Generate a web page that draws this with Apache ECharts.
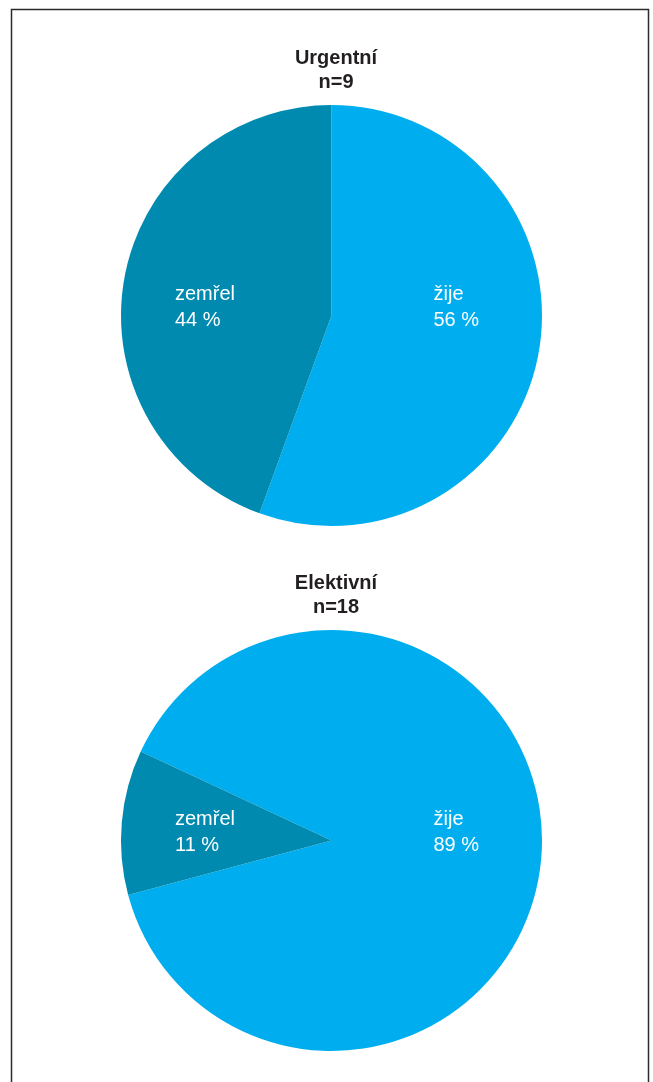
<!DOCTYPE html>
<html>
<head>
<meta charset="utf-8">
<script src="https://cdn.jsdelivr.net/npm/echarts@6/dist/echarts.min.js"></script>
<style>
html,body{margin:0;padding:0;background:#fff;}
#chart{width:653px;height:1082px;}
</style>
</head>
<body>
<div id="chart"></div>
<script>
// Data (patient counts; n=9 and n=18)
const categories = ['žije', 'zemřel'];
const urgentCounts = [5, 4];
const electiveCounts = [16, 2];
const titles = ['Urgentní\nn=9', 'Elektivní\nn=18'];
const colors = ['#00AEEF', '#008AAF'];

const chart = echarts.init(document.getElementById('chart'), null, {renderer: 'canvas'});

// label anchor positions (px) relative to pie centre
const labelOffsets = { 'žije': [102, -8], 'zemřel': [-156.5, -8] };

function makeSeries(values, cy, startAngle) {
  return {
    type: 'pie',
    center: [331.5, cy],
    radius: 210.5,
    startAngle: startAngle,
    clockwise: true,
    avoidLabelOverlap: false,
    animation: false,
    silent: true,
    itemStyle: { borderWidth: 0 },
    label: {
      show: true,
      position: 'inside',
      formatter: p => p.name + '\n' + Math.round(p.percent) + ' %',
      color: '#ffffff',
      fontFamily: 'Liberation Sans, Arial, sans-serif',
      fontSize: 20,
      lineHeight: 26,
      align: 'left'
    },
    labelLine: { show: false },
    labelLayout: function (params) {
      const off = labelOffsets[categories[params.dataIndex]];
      return { x: 331.5 + off[0], y: cy + off[1], align: 'left', verticalAlign: 'middle' };
    },
    data: categories.map((c, i) => ({ name: c, value: values[i], itemStyle: { color: colors[i] } }))
  };
}

const titleStyle = {
  fontFamily: 'Liberation Sans, Arial, sans-serif',
  fontWeight: 'bold',
  fontSize: 20,
  lineHeight: 24,
  color: '#231f20'
};

chart.setOption({
  backgroundColor: '#ffffff',
  title: [
    { text: titles[0], left: 331, top: 41, textAlign: 'center', textStyle: titleStyle },
    { text: titles[1], left: 331, top: 566, textAlign: 'center', textStyle: titleStyle }
  ],
  graphic: [{
    type: 'rect',
    shape: { x: 11.5, y: 9.5, width: 637, height: 1100 },
    style: { fill: 'none', stroke: '#2b2b2b', lineWidth: 1.5 },
    silent: true
  }],
  series: [
    makeSeries(urgentCounts, 315.5, 90),
    makeSeries(electiveCounts, 840.5, 155)
  ]
});
</script>
</body>
</html>
